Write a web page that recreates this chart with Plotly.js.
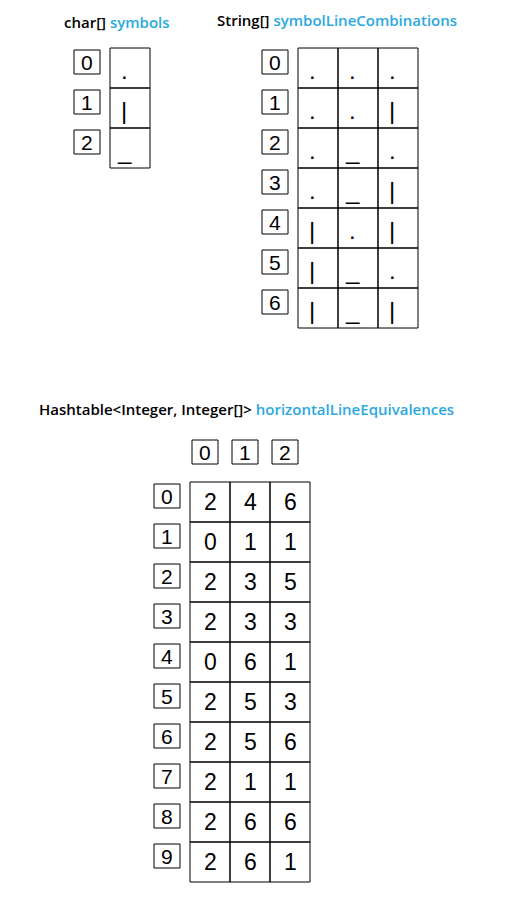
<!DOCTYPE html>
<html>
<head>
<meta charset="utf-8">
<script src="https://cdn.plot.ly/plotly-3.0.1.min.js"></script>
<style>body{margin:0;background:#fff}</style>
</head>
<body>
<div id="chart" style="width:510px;height:899px"></div>
<script>
// data
const symbols = [".", "|", "_"];
const symbolLineCombinations = ["...", "..|", "._.", "._|", "|.|", "|_.", "|_|"];
const horizontalLineEquivalences = [
  [2, 4, 6], [0, 1, 1], [2, 3, 5], [2, 3, 3], [0, 6, 1],
  [2, 5, 3], [2, 5, 6], [2, 1, 1], [2, 6, 6], [2, 6, 1]
];
const headerIndices = [0, 1, 2];

const blue = "#29a9e0";
const font = "Liberation Sans, Open Sans, sans-serif";
const cell = 40;
const shapes = [];
const annotations = [];

function box(x0, y0, w, h) {
  shapes.push({type: "rect", xref: "x", yref: "y", x0: x0, y0: y0, x1: x0 + w, y1: y0 + h,
    line: {color: "#000", width: 1}, fillcolor: "rgba(0,0,0,0)"});
}
function label(x, y, t, size) {
  annotations.push({x: x, y: y, xref: "x", yref: "y", text: t, showarrow: false,
    font: {family: font, size: size || 21, color: "#000"}, xanchor: "center", yanchor: "middle"});
}
function indexBox(x, y, i) {
  box(x, y, 26, 24);
  label(x + 13, y + 12, String(i), 21);
}
function title(x, y, a, b) {
  annotations.push({x: x, y: y, xref: "x", yref: "y", showarrow: false, xanchor: "left", yanchor: "middle",
    text: a + " <span style='color:" + blue + "'>" + b + "</span>",
    font: {family: "Open Sans, sans-serif", size: 15, color: "#000", weight: 600}});
}

// char[] symbols
title(62, 22, "char[]", "symbols");
symbols.forEach(function (s, i) {
  indexBox(74, 50 + i * cell, i);
  box(110, 48 + i * cell, cell, cell);
  label(124, 70 + i * cell, s, 24);
});

// String[] symbolLineCombinations
title(215, 20, "String[]", "symbolLineCombinations");
symbolLineCombinations.forEach(function (s, i) {
  indexBox(262, 50 + i * cell, i);
  s.split("").forEach(function (c, j) {
    box(298 + j * cell, 48 + i * cell, cell, cell);
    label(312 + j * cell, 70 + i * cell, c, 24);
  });
});

// Hashtable
title(37, 409, "Hashtable&lt;Integer, Integer[]&gt;", "horizontalLineEquivalences");
headerIndices.forEach(function (h, j) {
  indexBox(192 + j * cell, 440, h);
});
horizontalLineEquivalences.forEach(function (row, i) {
  indexBox(154, 484 + i * cell, i);
  row.forEach(function (v, j) {
    box(190 + j * cell, 482 + i * cell, cell, cell);
    label(210 + j * cell, 502 + i * cell, String(v), 23);
  });
});

Plotly.newPlot("chart", [], {
  width: 510, height: 899,
  margin: {l: 0, r: 0, t: 0, b: 0},
  paper_bgcolor: "#fff", plot_bgcolor: "#fff",
  xaxis: {range: [0, 510], visible: false, fixedrange: true},
  yaxis: {range: [899, 0], visible: false, fixedrange: true},
  shapes: shapes, annotations: annotations, showlegend: false
}, {staticPlot: true});
</script>
</body>
</html>
